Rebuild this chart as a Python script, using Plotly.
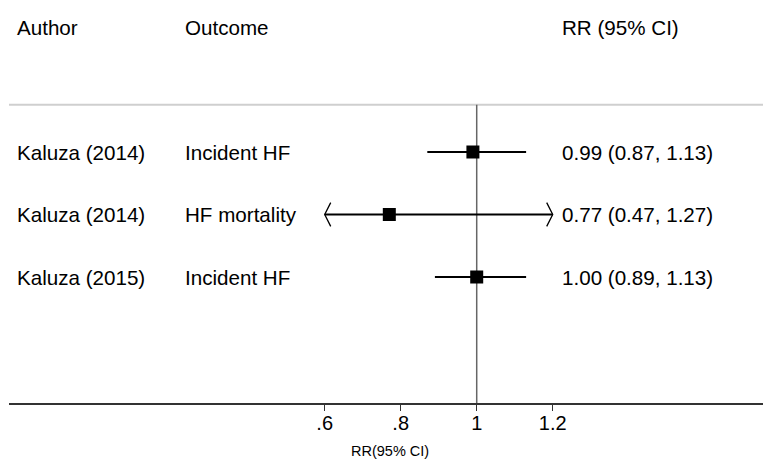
import plotly.graph_objects as go

# ---- data ----
authors = ["Kaluza (2014)", "Kaluza (2014)", "Kaluza (2015)"]
outcomes = ["Incident HF", "HF mortality", "Incident HF"]
rr = [0.99, 0.77, 1.00]
lo = [0.87, 0.47, 0.89]
hi = [1.13, 1.27, 1.13]
tick_vals = [0.6, 0.8, 1.0, 1.2]
tick_text = [".6", ".8", "1", "1.2"]
headers = ["Author", "Outcome", "RR (95% CI)"]

# ---- layout constants ----
W, H = 763, 463
ML, MR, MT, MB = 9, 0, 0, 60
X_RANGE = [-0.2308, 1.7534]
Y_RANGE = [5.016, -1.432]
COL_X = [-0.214, 0.228, 1.219]   # text column anchors (data units)
HEADER_Y = -1.0
TOPLINE_Y = 0.243
FONT = "Liberation Sans, Arial, sans-serif"
FS = 20.6

clip_lo, clip_hi = min(tick_vals), max(tick_vals)
rows = list(range(1, len(rr) + 1))

fig = go.Figure()

# reference line at 1
fig.add_shape(type="line", x0=1, x1=1, y0=TOPLINE_Y, y1=Y_RANGE[0],
              xref="x", yref="y", line=dict(color="#666666", width=1.5), layer="below")
# top separator line
fig.add_shape(type="line", x0=0, x1=1, xref="paper", y0=TOPLINE_Y, y1=TOPLINE_Y, yref="y",
              line=dict(color="#cfcfcf", width=2), layer="below")

arrow_dx = 0.0158
arrow_dy = 0.19
for r, l, h in zip(rows, lo, hi):
    x0 = max(l, clip_lo)
    x1 = min(h, clip_hi)
    fig.add_trace(go.Scatter(x=[x0, x1], y=[r, r], mode="lines",
                             line=dict(color="black", width=2), hoverinfo="skip", showlegend=False))
    if l < clip_lo:
        fig.add_trace(go.Scatter(x=[x0 + arrow_dx, x0, x0 + arrow_dx], y=[r - arrow_dy, r, r + arrow_dy],
                                 mode="lines", line=dict(color="black", width=1.3),
                                 hoverinfo="skip", showlegend=False))
    if h > clip_hi:
        fig.add_trace(go.Scatter(x=[x1 - arrow_dx, x1, x1 - arrow_dx], y=[r - arrow_dy, r, r + arrow_dy],
                                 mode="lines", line=dict(color="black", width=1.3),
                                 hoverinfo="skip", showlegend=False))

fig.add_trace(go.Scatter(x=rr, y=rows, mode="markers",
                         marker=dict(symbol="square", size=13, color="black"),
                         showlegend=False))

ann = []
for cx, t in zip(COL_X, headers):
    ann.append(dict(x=cx, y=HEADER_Y, xref="x", yref="y", text=t, showarrow=False,
                    xanchor="left", yanchor="middle", font=dict(family=FONT, size=FS, color="black")))
for r, a, o, v, l, h in zip(rows, authors, outcomes, rr, lo, hi):
    for cx, t in zip(COL_X, [a, o, f"{v:.2f} ({l:.2f}, {h:.2f})"]):
        ann.append(dict(x=cx, y=r, xref="x", yref="y", text=t, showarrow=False,
                        xanchor="left", yanchor="middle", font=dict(family=FONT, size=FS, color="black")))
ann.append(dict(x=0.505, y=-0.119, xref="paper", yref="paper", text="RR(95% CI)",
                showarrow=False, xanchor="center", yanchor="middle",
                font=dict(family=FONT, size=14.5, color="black")))

fig.update_layout(
    width=W, height=H, margin=dict(l=ML, r=MR, t=MT, b=MB),
    paper_bgcolor="white", plot_bgcolor="white",
    annotations=ann,
    xaxis=dict(range=X_RANGE, showgrid=False, zeroline=False,
               tickvals=tick_vals, ticktext=tick_text, ticks="outside", ticklen=6,
               tickcolor="#333333", tickwidth=1.2, ticklabelstandoff=-5,
               showline=True, linecolor="#333333", linewidth=1.5,
               tickfont=dict(family=FONT, size=20, color="black")),
    yaxis=dict(range=Y_RANGE, showgrid=False, zeroline=False, showticklabels=False,
               showline=False, ticks=""),
)

fig.write_html("out.html")
